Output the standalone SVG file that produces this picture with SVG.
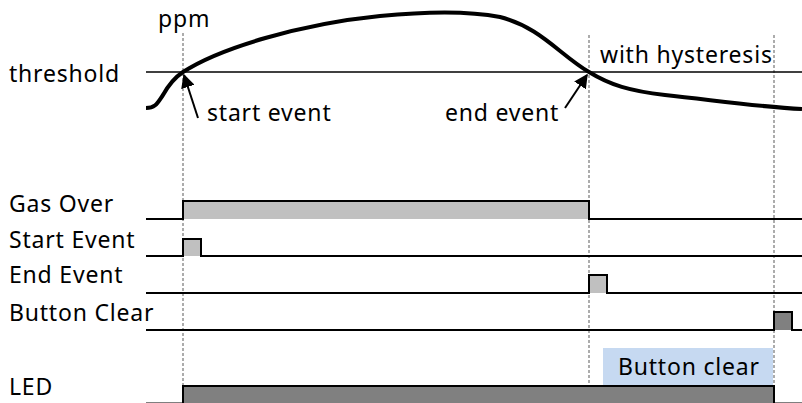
<svg xmlns="http://www.w3.org/2000/svg" width="802" height="403" viewBox="0 0 802 403">
<defs>
<style>
text{font-family:"Noto Sans","Open Sans","Liberation Sans",sans-serif;font-size:23px;letter-spacing:0.8px;fill:#000}
.sig{fill:none;stroke:#000;stroke-width:2}
.lt{fill:#c0c0c0;stroke:#000;stroke-width:2}
.dk{fill:#808080;stroke:#000;stroke-width:2}
.dash{stroke:#808080;stroke-width:1.3;stroke-dasharray:3 2;fill:none}
</style>
<marker id="ah2" viewBox="0 0 10 10" refX="9" refY="5" markerWidth="14" markerHeight="14" markerUnits="userSpaceOnUse" orient="auto">
<path d="M0,0 L10,5 L0,10 z" fill="#000"/>
</marker>
</defs>
<g id="guides">
<line class="dash" x1="183" y1="33" x2="183" y2="403"/>
<line class="dash" x1="589" y1="35" x2="589" y2="403"/>
<line class="dash" x1="774" y1="35" x2="774" y2="403"/>
</g>
<g id="chart">
<text x="158" y="27">ppm</text>
<text x="9" y="82">threshold</text>
<line x1="146" y1="72" x2="802" y2="72" stroke="#000" stroke-width="1.5"/>
<path d="M146,108 C156,108 158,102 163,95 C168,86 174,78 183,72 C220,48 300,24 380,16 C430,11 470,11 500,17 C540,27 560,55 589,72 C610,85 630,91 665,95 C720,101 760,107 802,109" fill="none" stroke="#000" stroke-width="4"/>
<text x="600" y="63">with hysteresis</text>
</g>
<g id="connectors">
<line x1="198" y1="118" x2="184" y2="75" stroke="#000" stroke-width="2" marker-end="url(#ah2)"/>
<line x1="565" y1="108" x2="587" y2="75" stroke="#000" stroke-width="2" marker-end="url(#ah2)"/>
</g>
<g id="start-event-label"><text x="207" y="121">start event</text></g>
<g id="end-event-label"><text x="445" y="121">end event</text></g>
<g id="gas-over">
<text x="9" y="212">Gas Over</text>
<path class="lt" d="M183,219 V201 H589 V219"/>
<path class="sig" d="M146,219 H183 V201 H589 V219 H802"/>
</g>
<g id="start-event">
<text x="9" y="248">Start Event</text>
<path class="lt" d="M183,256 V239 H201 V256"/>
<path class="sig" d="M146,256 H183 V239 H201 V256 H802"/>
</g>
<g id="end-event">
<text x="9" y="283">End Event</text>
<path class="lt" d="M589,293 V275 H607 V293"/>
<path class="sig" d="M146,293 H589 V275 H607 V293 H802"/>
</g>
<g id="button-clear">
<text x="9" y="321">Button Clear</text>
<path class="dk" d="M774,330 V312 H792 V330"/>
<path class="sig" d="M146,330 H774 V312 H792 V330 H802"/>
</g>
<g id="button-clear-box">
<rect x="603" y="348" width="170" height="38" fill="#c6d9f1"/>
<text x="618" y="375">Button clear</text>
</g>
<g id="led">
<text x="9" y="395">LED</text>
<path class="dk" d="M183,404 V386 H774 V404"/>
<path class="sig" d="M146,403.5 H183 V386 H774 V403.5 H802"/>
</g>
</svg>
